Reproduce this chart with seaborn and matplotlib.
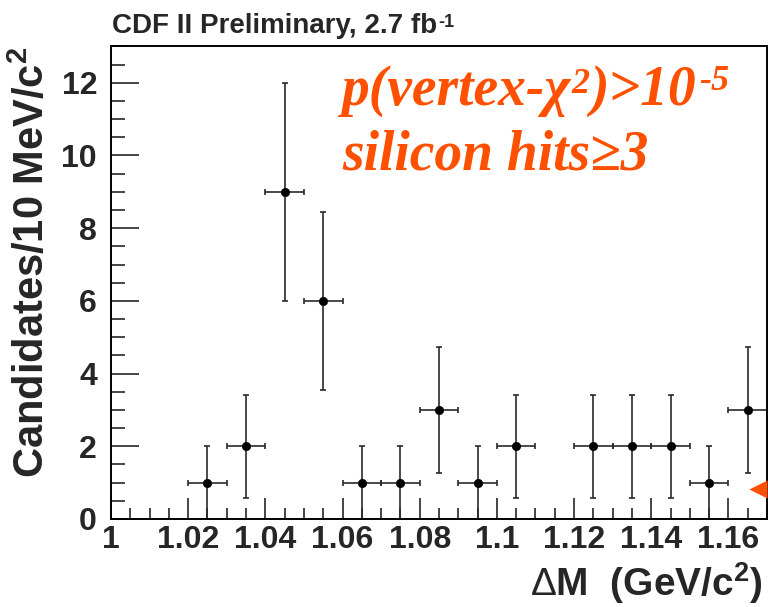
import numpy as np
import pandas as pd
import seaborn as sns
import matplotlib.pyplot as plt
from matplotlib.ticker import MultipleLocator, FuncFormatter

# bin centres (GeV/c^2) and candidate counts per 10 MeV/c^2
mass = [1.025, 1.035, 1.045, 1.055, 1.065, 1.075, 1.085, 1.095, 1.105,
        1.125, 1.135, 1.145, 1.155, 1.165]
counts = [1, 2, 9, 6, 1, 1, 3, 1, 2, 2, 2, 2, 1, 3]
# statistical errors
err = [1.0, 1.41, 3.0, 2.45, 1.0, 1.0, 1.73, 1.0, 1.41, 1.41, 1.41, 1.41, 1.0, 1.73]
half_bin = [0.005] * len(mass)

# cut marker on the right edge
arrow_x = [1.1677]
arrow_y = [0.83]

df = pd.DataFrame({'mass': mass, 'counts': counts, 'err': err, 'xerr': half_bin})

sns.set_theme(style='ticks')
plt.rcParams['font.family'] = ['Liberation Sans', 'DejaVu Sans']
plt.rcParams['mathtext.fontset'] = 'custom'
plt.rcParams['mathtext.rm'] = 'Liberation Sans'
plt.rcParams['mathtext.bf'] = 'Liberation Sans:bold'

fig = plt.figure(figsize=(7.68, 6.07), dpi=100)
ax = fig.add_axes([0.1445, 0.145, 0.8542, 0.7786])

ax.errorbar(df['mass'], df['counts'], yerr=df['err'], xerr=df['xerr'],
            fmt='none', ecolor='#2a2a2a', elinewidth=1.2, capsize=2.5, capthick=1.2)
sns.scatterplot(data=df, x='mass', y='counts', ax=ax, color='black',
                s=36, edgecolor='black', zorder=3)

ax.scatter(arrow_x, arrow_y, marker='<', s=170, color='#ff5000',
           clip_on=False, zorder=4, linewidths=0)

ax.set_xlim(1.0, 1.17)
ax.set_ylim(0, 13)
ax.xaxis.set_major_locator(MultipleLocator(0.02))
ax.xaxis.set_minor_locator(MultipleLocator(0.005))
ax.yaxis.set_major_locator(MultipleLocator(2))
ax.yaxis.set_minor_locator(MultipleLocator(0.5))
ax.xaxis.set_major_formatter(FuncFormatter(lambda v, p: f'{v:.2f}'.rstrip('0').rstrip('.')))

ax.tick_params(axis='both', which='major', direction='in', length=15, width=1.2,
               labelsize=23, pad=4)
ax.tick_params(axis='both', which='minor', direction='in', length=8, width=1.2)
ax.tick_params(axis='y', which='major', length=20, pad=10)
ax.tick_params(axis='y', which='minor', length=10)
for lab in ax.get_xticklabels() + ax.get_yticklabels():
    lab.set_fontweight('bold')
for s in ax.spines.values():
    s.set_linewidth(1.4)
    s.set_color('black')

ax.set_xlabel(r'$\Delta$M  (GeV/c$^{\mathbf{2}}$)', fontsize=28, fontweight='bold',
              loc='right', labelpad=4)
ax.xaxis.label.set_x(0.994)
ax.set_ylabel(r'Candidates/10 MeV/c$^{\mathbf{2}}$', fontsize=30, fontweight='bold',
              loc='top', labelpad=6)

# title with a small hyphen superscript
title = fig.text(0.146, 1 - 33 / 607, 'CDF II Preliminary, 2.7 fb', fontsize=20,
                 fontweight='bold', ha='left', va='baseline')
ax.annotate('-1', xy=(1, 1), xycoords=title, xytext=(1, -1), textcoords='offset points',
            fontsize=13, fontweight='bold', ha='left', va='top', annotation_clip=False)

# orange selection text, built in pieces so superscripts stay small
orange = '#ff5000'
kw = dict(fontweight='bold', style='italic', color=orange,
          family=['Liberation Serif', 'DejaVu Serif'], annotation_clip=False)
t1 = ax.text(0.352, 0.876, 'p(vertex-\u03c7', transform=ax.transAxes, fontsize=40,
             fontweight='bold', style='italic', color=orange, va='baseline',
             family=['Liberation Serif', 'DejaVu Serif'])
s1 = ax.annotate('2', xy=(1, 1), xycoords=t1, xytext=(0, -2), textcoords='offset points',
                 fontsize=26, ha='left', va='top', **kw)
t2 = ax.annotate(')>10', xy=(1, 0), xycoords=(s1, t1), xytext=(1, 0),
                 textcoords='offset points', fontsize=40, ha='left', va='bottom', **kw)
ax.annotate('-5', xy=(1, 1), xycoords=t2, xytext=(2, 0), textcoords='offset points',
            fontsize=26, ha='left', va='top', **kw)

ax.text(0.352, 0.739, 'silicon hits\u22653', transform=ax.transAxes,
        fontsize=40, fontweight='bold', style='italic', color=orange, va='baseline',
        family=['Liberation Serif', 'DejaVu Serif'])

fig.savefig('out.png', dpi=100)
